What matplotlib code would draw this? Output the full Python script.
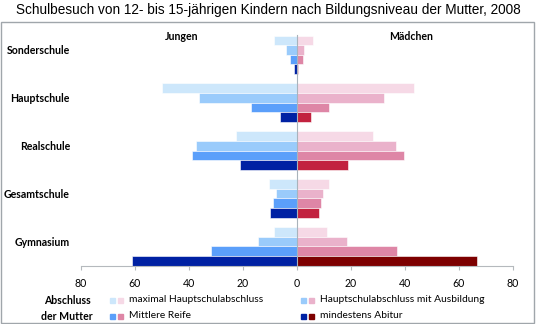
import matplotlib.pyplot as plt
import numpy as np
from matplotlib.patches import Rectangle

# Daten (Anteile in %)
schularten = ['Sonderschule', 'Hauptschule', 'Realschule', 'Gesamtschule', 'Gymnasium']
abschluesse = ['maximal Hauptschulabschluss', 'Hauptschulabschluss mit Ausbildung',
               'Mittlere Reife', 'mindestens Abitur']
jungen = [
    [8.4, 3.9, 2.5, 1.1],
    [49.8, 36.2, 17.1, 6.3],
    [22.5, 37.5, 38.7, 20.9],
    [10.2, 7.7, 9.0, 9.9],
    [8.4, 14.3, 31.9, 61.1],
]
maedchen = [
    [5.9, 2.7, 2.2, 0.5],
    [43.3, 32.2, 11.9, 5.2],
    [28.3, 36.6, 39.6, 18.8],
    [11.8, 9.8, 8.9, 8.3],
    [11.1, 18.7, 37.0, 66.8],
]
ticks = [-80, -60, -40, -20, 0, 20, 40, 60, 80]

blau = ['#cde7fb', '#9acbfb', '#5b9ffa', '#0021a3']
rosa = ['#f6d9e6', '#eab2cb', '#de86a6', '#c2223f']
rosa_gym_abitur = '#7d0000'

W, H = 536, 324
fig = plt.figure(figsize=(W / 100, H / 100), dpi=100)

# Rahmen und Titel
fig.patches.append(Rectangle((1 / W, 1 - 323 / H), 533 / W, 301 / H, transform=fig.transFigure,
                             fill=False, edgecolor='#a0a6ab', linewidth=1.0))
fig.text(268 / W, 1 - 10 / H, 'Schulbesuch von 12- bis 15-jährigen Kindern nach Bildungsniveau der Mutter, 2008',
         ha='center', va='center', fontsize=9.8, family='Liberation Sans')

ax = fig.add_axes([80.7 / W, 1 - 265.5 / H, (513 - 80.7) / W, (265.5 - 30.8) / H])

h = 0.2
for i, name in enumerate(schularten):
    for k in range(4):
        y = i - 0.3 + k * h
        ax.barh(y, -jungen[i][k], height=h, color=blau[k], edgecolor='white', linewidth=0.4)
        farbe = rosa[k]
        if name == 'Gymnasium' and k == 3:
            farbe = rosa_gym_abitur
        ax.barh(y, maedchen[i][k], height=h, color=farbe, edgecolor='white', linewidth=0.4)
    ax.text(-84, i - 0.08, name, ha='right', va='center', fontsize=7.6,
            fontweight='bold', family='Lato', clip_on=False)

ax.axvline(0, ymin=0, ymax=0.98, color='#a9b3bb', linewidth=0.8, zorder=3)
ax.set_xlim(-80, 80)
ax.set_ylim(4.4, -0.5)
ax.set_xticks(ticks)
ax.set_xticklabels([str(abs(t)) for t in ticks], fontsize=7.6, family='Lato')
ax.set_yticks([])
for s in ['top', 'left', 'right']:
    ax.spines[s].set_visible(False)
ax.spines['bottom'].set_color('#b5b9bd')
ax.spines['bottom'].set_linewidth(0.8)
ax.tick_params(axis='x', direction='out', length=3, color='#b5b9bd', pad=6)

ax.text(-42.7, -0.39, 'Jungen', ha='center', va='center', fontsize=7.6,
        fontweight='bold', family='Lato')
ax.text(42.2, -0.39, 'Mädchen', ha='center', va='center', fontsize=7.6,
        fontweight='bold', family='Lato')

# Legende
fig.text(67 / W, 1 - 301 / H, 'Abschluss', ha='center', va='center', fontsize=7.6,
         fontweight='bold', family='Lato')
fig.text(67 / W, 1 - 316 / H, 'der Mutter', ha='center', va='center', fontsize=7.6,
         fontweight='bold', family='Lato')
pos = [(110, 300), (301, 300), (110, 316), (301, 316)]
for k, (px, py) in enumerate(pos):
    farbe2 = rosa_gym_abitur if k == 3 else rosa[k]
    for dx, c in [(0, blau[k]), (8, farbe2)]:
        fig.patches.append(Rectangle(((px + dx) / W, 1 - (py + 2.5) / H), 5 / W, 5 / H,
                                     transform=fig.transFigure, color=c))
    fig.text((px + 19) / W, 1 - py / H, abschluesse[k], ha='left', va='center',
             fontsize=7.4, family='Lato')

fig.savefig('out.png', dpi=100)
